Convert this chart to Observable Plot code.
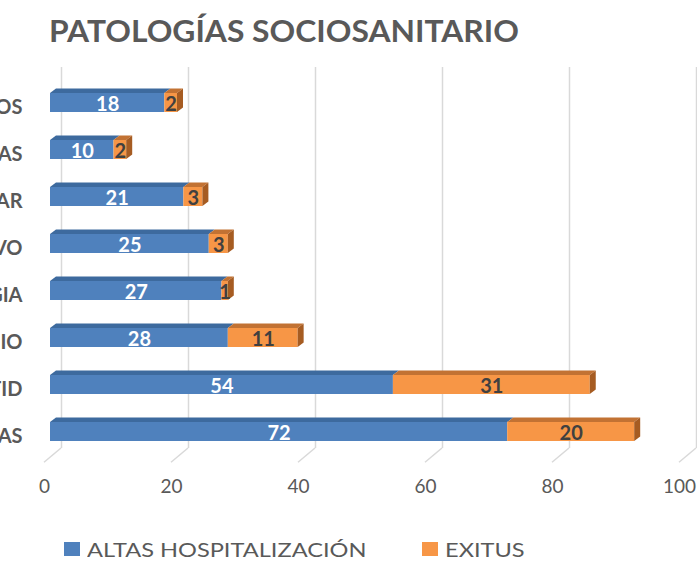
<!DOCTYPE html>
<html><head><meta charset="utf-8">
<script src="https://cdn.jsdelivr.net/npm/d3@7"></script>
<script src="https://cdn.jsdelivr.net/npm/@observablehq/plot@0.6"></script>
<style>
html,body{margin:0;padding:0;background:#fff;}
#wrap{position:relative;width:697px;height:561px;overflow:hidden;font-family:Lato,sans-serif;background:#fff;}
#title{position:absolute;left:49px;top:15px;font:bold 30px/30px Lato,sans-serif;color:#595959;white-space:nowrap;transform:scaleX(1.06);transform-origin:0 0;}
#chart{position:absolute;left:0;top:60px;}
.sw{position:absolute;width:16px;height:14px;top:542px;}
.lt{position:absolute;top:539px;font:20px/20px Lato,sans-serif;color:#595959;white-space:nowrap;transform:scaleX(1.18);transform-origin:0 0;}
</style></head>
<body><div id="wrap"><div id="title">PATOLOGÍAS SOCIOSANITARIO</div><div id="chart"></div><div id="legend"></div></div>
<script>
const categoryLabels = ["OS","AS","AR","VO","GIA","IO","TID","AS"];
const altasHospitalizacion = [18,10,21,25,27,28,54,72];
const exitus = [2,2,3,3,1,11,31,20];
const seriesNames = ["ALTAS HOSPITALIZACIÓN","EXITUS"];
const seriesColors = ["#4F81BD","#F79646"];
const xTicks = [0,20,40,60,80,100];

const rows = categoryLabels.map((c,i)=>i);
const data = rows.flatMap(i => [
  {cat:i, series:seriesNames[0], value:altasHospitalizacion[i]},
  {cat:i, series:seriesNames[1], value:exitus[i]}
]);

const topShade = {[seriesNames[0]]:"#3D6A9E", [seriesNames[1]]:"#C27233"};
const sideShade = "#A65C22";
const DX = 6, DY = 4.5;
const NS = "http://www.w3.org/2000/svg";

function poly(g, pts, fill){
  const p = document.createElementNS(NS, "polygon");
  p.setAttribute("points", pts.map(q=>q.join(",")).join(" "));
  p.setAttribute("fill", fill);
  g.appendChild(p);
}

function bars3d(index, scales, values, dims, context, next){
  const g = next(index, scales, values, dims, context);
  const ys = scales.y;
  const bw = typeof ys.bandwidth === "function" ? ys.bandwidth() : scales.scales.y.bandwidth;
  for (const i of index){
    const x1 = values.x1[i], x2 = values.x2[i], y = values.y[i];
    poly(g, [[x1,y],[x2,y],[x2+DX,y-DY],[x1+DX,y-DY]], topShade[data[i].series]);
    if (data[i].series === seriesNames[1]){
      poly(g, [[x2,y],[x2+DX,y-DY],[x2+DX,y+bw-DY],[x2,y+bw]], sideShade);
    }
  }
  return g;
}

function floorLines(index, scales, values, dims){
  const g = document.createElementNS(NS, "g");
  const yb = dims.height - dims.marginBottom;
  for (const i of index){
    const x = values.x[i];
    const l = document.createElementNS(NS, "line");
    l.setAttribute("x1", x - 6); l.setAttribute("y1", yb - 4.5);
    l.setAttribute("x2", x + 11); l.setAttribute("y2", yb - 18.8);
    l.setAttribute("stroke", "#D9D9D9"); l.setAttribute("stroke-width", 1.5);
    g.appendChild(l);
  }
  return g;
}

const chart = Plot.plot({
  width: 697,
  height: 470,
  marginLeft: 50,
  marginRight: 12,
  marginTop: 7,
  marginBottom: 63.2,
  style: {fontFamily: "Lato, sans-serif", background: "white", overflow: "visible"},
  x: {domain: [0,100], axis: null},
  y: {domain: rows, axis: null, paddingInner: 0.6, paddingOuter: 0.5},
  color: {domain: seriesNames, range: seriesColors},
  marks: [
    Plot.ruleX(xTicks, {x: d=>d, dx: 11, insetBottom: 18.8, stroke: "#D9D9D9", strokeWidth: 1.5}),
    Plot.ruleX(xTicks, {x: d=>d, render: floorLines}),
    Plot.barX(data, Plot.stackX({x: "value", y: "cat", fill: "series", render: bars3d})),
    Plot.text(data, Plot.stackX({x: "value", y: "cat", z: "series",
      text: d => d.series === seriesNames[0] ? String(d.value) : null,
      fill: "white", fontWeight: "bold", fontSize: 20, dy: 1.5})),
    Plot.text(data, Plot.stackX({x: "value", y: "cat", z: "series",
      text: d => d.series === seriesNames[1] ? String(d.value) : null,
      fill: "#404040", fontWeight: "bold", fontSize: 20, dy: 1.5})),
    Plot.text(rows, {y: d=>d, text: d=>categoryLabels[d], frameAnchor: "left", dx: -28,
      textAnchor: "end", dy: 4.5, fontWeight: "bold", fontSize: 20, fill: "#595959"}),
    Plot.text(xTicks, {x: d=>d, text: d=>String(d), frameAnchor: "bottom", dy: 25.7, dx: -6,
      fontSize: 19, fill: "#595959"})
  ]
});
document.getElementById("chart").appendChild(chart);

const legend = document.getElementById("legend");
const legendX = [64, 422];
seriesNames.forEach((name, k) => {
  const sw = document.createElement("div");
  sw.className = "sw"; sw.style.left = legendX[k] + "px"; sw.style.background = seriesColors[k];
  legend.appendChild(sw);
  const t = document.createElement("div");
  t.className = "lt"; t.style.left = (legendX[k] + 23) + "px"; t.textContent = name;
  legend.appendChild(t);
});
</script>
</body></html>
